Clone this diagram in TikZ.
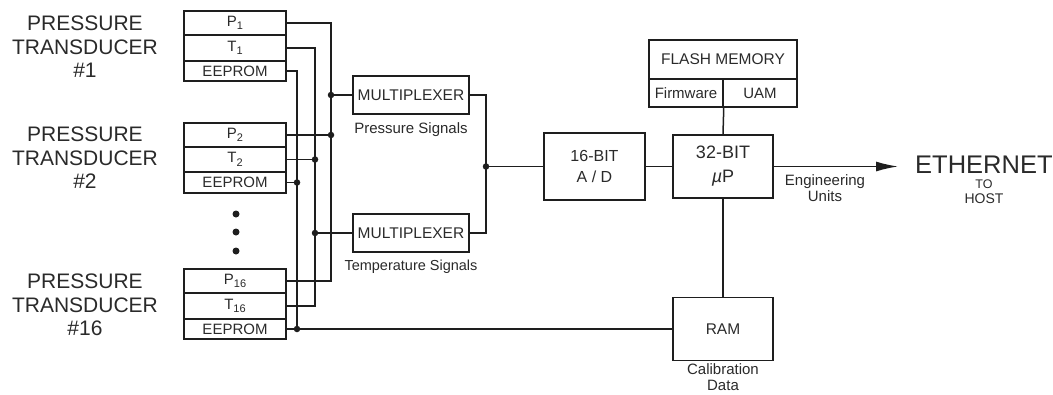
\documentclass[tikz,border=0pt]{standalone}
\usepackage{fontspec}
\setmainfont{Liberation Sans}
\usetikzlibrary{arrows.meta}
\definecolor{ink}{HTML}{1E1E1E}
\definecolor{txt}{HTML}{2A2A2A}
\newcommand{\sbs}[1]{\raisebox{-0.45ex}{\fontsize{11}{11}\selectfont #1}}
\begin{document}
\begin{tikzpicture}[x=1pt,y=-1pt,
  cell/.style={draw=ink, line width=1.5pt, minimum width=102pt, inner sep=0pt, text=txt, font=\fontsize{15}{15}\selectfont},
  blk/.style={draw=ink, line width=1.5pt, inner sep=0pt, align=center, text=txt},
  wire/.style={draw=ink, line width=1.5pt},
  jdot/.style={circle, fill=ink, inner sep=0pt, minimum size=6.5pt},
  lbl/.style={text=txt, align=center, inner sep=0pt},
  tlabel/.style={lbl, font=\fontsize{21}{23.5}\selectfont}
]
\useasboundingbox (0,0) rectangle (1053,394);

% transducer labels
\node[tlabel] (l1) at (85,47) {PRESSURE\\TRANSDUCER\\\#1};
\node[tlabel] (l2) at (85,158) {PRESSURE\\TRANSDUCER\\\#2};
\node[tlabel] (l16) at (85,305) {PRESSURE\\TRANSDUCER\\\#16};

% transducer cells
\node[cell, minimum height=24pt] (p1) at (235,23) {P\sbs{1}};
\node[cell, minimum height=26pt] (t1) at (235,48) {T\sbs{1}};
\node[cell, minimum height=20pt] (e1) at (235,71) {EEPROM};

\node[cell, minimum height=24pt] (p2) at (235,135) {P\sbs{2}};
\node[cell, minimum height=25pt] (t2) at (235,159.5) {T\sbs{2}};
\node[cell, minimum height=21pt] (e2) at (235,182.5) {EEPROM};

\node[cell, minimum height=24pt] (p16) at (235,281) {P\sbs{16}};
\node[cell, minimum height=26pt] (t16) at (235,306) {T\sbs{16}};
\node[cell, minimum height=20pt] (e16) at (235,329) {EEPROM};

% ellipsis dots
\node[jdot, minimum size=7pt] (d1) at (236,214) {};
\node[jdot, minimum size=7pt] (d2) at (236,232) {};
\node[jdot, minimum size=7pt] (d3) at (236,251) {};

% bus coordinates
\coordinate (pb) at (331,0);
\coordinate (tb) at (315,0);
\coordinate (eb) at (297,0);

% multiplexers
\node[blk, minimum width=116pt, minimum height=38pt, font=\fontsize{15.5}{15.5}\selectfont] (mux1) at (411,95) {MULTIPLEXER};
\node[blk, minimum width=116pt, minimum height=38pt, font=\fontsize{15.5}{15.5}\selectfont] (mux2) at (411,233) {MULTIPLEXER};
\node[lbl, font=\fontsize{15}{15}\selectfont] (ps) at (411,130) {Pressure Signals};
\node[lbl, font=\fontsize{14.5}{15}\selectfont] (ts) at (411,267) {Temperature Signals};

% A/D and uP
\node[blk, minimum width=101pt, minimum height=67pt, font=\fontsize{16}{21}\selectfont] (ad) at (594.5,166.5) {16-BIT\\A / D};
\node[blk, minimum width=100pt, minimum height=63pt, font=\fontsize{18}{24}\selectfont] (up) at (723,166.5) {32-BIT\\\textit{µ}P};

% flash memory
\node[blk, minimum width=148pt, minimum height=39pt, font=\fontsize{15.5}{15.5}\selectfont] (fl) at (723,59.5) {FLASH MEMORY};
\node[blk, minimum width=74pt, minimum height=28pt, font=\fontsize{15}{15}\selectfont] (fw) at (686,93) {Firmware};
\node[blk, minimum width=74pt, minimum height=28pt, font=\fontsize{15}{15}\selectfont] (uam) at (760,93) {UAM};

% RAM
\node[blk, minimum width=100pt, minimum height=63pt, font=\fontsize{15.5}{15.5}\selectfont] (ram) at (723,329) {RAM};
\node[lbl, font=\fontsize{15}{16}\selectfont] (cal) at (723,377) {Calibration\\Data};

% output
\coordinate (eth) at (898,166.5);
\node[lbl, anchor=west, font=\fontsize{25.5}{25.5}\selectfont] (ethn) at (915,165) {ETHERNET};
\node[lbl, font=\fontsize{12.5}{12.5}\selectfont] (to) at (984,184) {TO};
\node[lbl, font=\fontsize{14}{14}\selectfont] (host) at (984,198.5) {HOST};
\node[lbl, font=\fontsize{15}{16}\selectfont] (eng) at (825,188) {Engineering\\Units};

% pressure bus
\draw[wire] (p1.east) -| (pb |- p16.east) -- (p16.east);
\draw[wire] (p2.east) -- (pb |- p2.east);
\node[jdot] at (pb |- p2.east) {};
\draw[wire] (pb |- mux1.west) -- (mux1.west);
\node[jdot] at (pb |- mux1.west) {};

% temperature bus
\draw[wire] (t1.east) -| (tb |- t16.east) -- (t16.east);
\draw[wire] (t2.east) -- (tb |- t2.east);
\node[jdot] at (tb |- t2.east) {};
\draw[wire] (tb |- mux2.west) -- (mux2.west);
\node[jdot] at (tb |- mux2.west) {};

% eeprom bus
\draw[wire] (e1.east) -| (eb |- e16.east);
\draw[wire] (e2.east) -- (eb |- e2.east);
\node[jdot] at (eb |- e2.east) {};
\draw[wire] (e16.east) -- (ram.west);
\node[jdot] at (eb |- e16.east) {};

% mux outputs
\coordinate (j) at (486,166.5);
\draw[wire] (mux1.east) -| (j);
\draw[wire] (mux2.east) -| (j);
\draw[wire] (j) -- (ad.west);
\node[jdot] at (j) {};

\draw[wire] (ad.east) -- (up.west);
\draw[wire] (fw.south east) -- (up.north);
\draw[wire] (up.south) -- (ram.north);
\draw[wire, -{Latex[length=22pt,width=10pt]}] (up.east) -- (eth);
\end{tikzpicture}
\end{document}
